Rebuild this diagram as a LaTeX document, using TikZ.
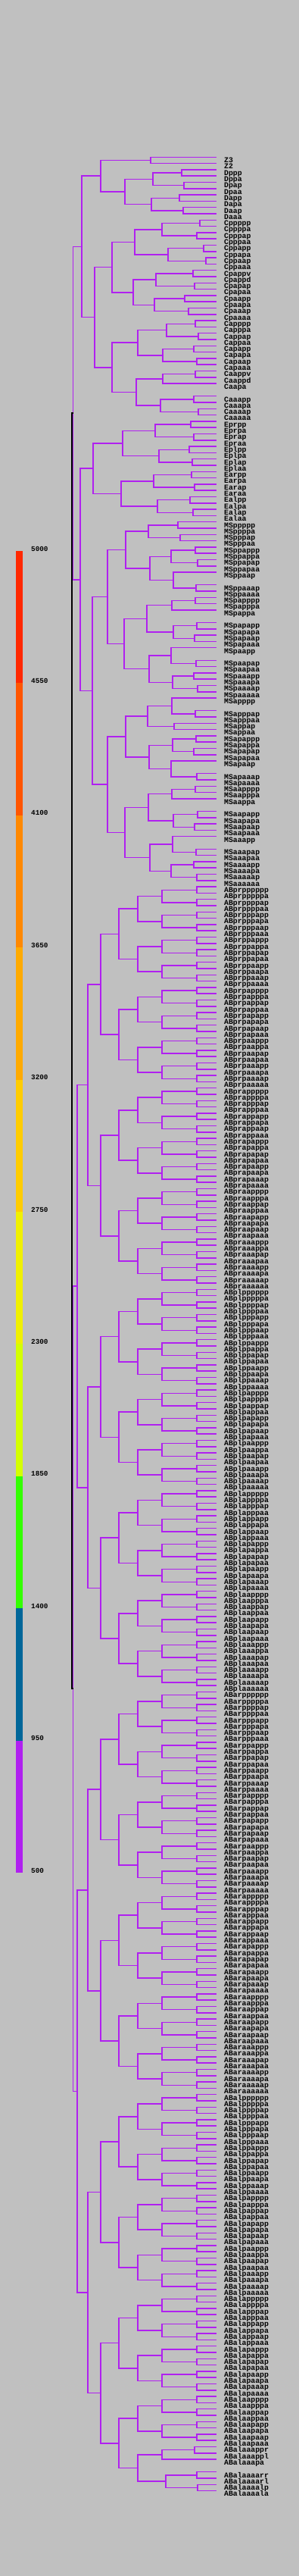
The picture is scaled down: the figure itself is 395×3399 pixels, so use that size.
\documentclass[tikz,border=0pt]{standalone}
\usepackage{fontspec}
\setmonofont{Liberation Mono}
\usetikzlibrary{calc}

\definecolor{bggrey}{RGB}{192,192,192}
\definecolor{cellline}{RGB}{176,32,240}
\definecolor{lev1}{RGB}{255,40,0}
\definecolor{lev2}{RGB}{255,85,0}
\definecolor{lev3}{RGB}{255,136,0}
\definecolor{lev4}{RGB}{255,170,0}
\definecolor{lev5}{RGB}{255,204,0}
\definecolor{lev6}{RGB}{240,240,0}
\definecolor{lev7}{RGB}{212,255,0}
\definecolor{lev8}{RGB}{51,255,0}
\definecolor{lev9}{RGB}{0,102,153}
\definecolor{lev10}{RGB}{176,32,240}

% one slot per terminal cell, top to bottom
\newcount\slotno
\newcommand\leaf[1]{%
  \pgfmathsetmacro\ly{-207.3-8.3*\the\slotno}%
  \coordinate (#1) at (286,\ly);
  \node[cellname] (n-#1) at (296,\ly-7.3) {#1};
  \global\advance\slotno by 1\relax}
\newcommand\blankslot{\global\advance\slotno by 1\relax}
\def\nocell{-}
\newcommand\leafrow[1]{\foreach \nm in {#1}{\ifx\nm\nocell\blankslot\else\leaf{\nm}\fi}}
% mother cell between two daughters, x = time of division
\newcommand\cell[5][branch]{%
  \path let \p1=(#4), \p2=(#5) in coordinate (#2) at (#3,{(\y1+\y2)/2});
  \draw[#1] (#4) -| (#2) |- (#5);}
\newcommand\pa[2]{\cell{#1}{#2}{#1p}{#1a}}

\begin{document}
\begin{tikzpicture}[x=1pt,y=1pt,
  branch/.style={draw=cellline,line width=1.5pt},
  rootline/.style={draw=black,line width=2pt},
  cellname/.style={anchor=base west,inner sep=0pt,font=\ttfamily\bfseries\fontsize{9.8}{10}\selectfont},
  scalelbl/.style={anchor=base west,inner sep=0pt,font=\ttfamily\bfseries\fontsize{9.3}{10}\selectfont}]

\fill[bggrey] (0,0) rectangle (395,-3399);

% colour scale
\foreach \k/\shade in {0/lev1,1/lev2,2/lev3,3/lev4,4/lev5,5/lev6,6/lev7,7/lev8,8/lev9,9/lev10}
  \fill[\shade] (21,{-727-174.4*\k}) rectangle (30,{-727-174.4*(\k+1)});
\foreach \k/\val in {0/5000,1/4550,2/4100,3/3650,4/3200,5/2750,6/2300,7/1850,8/1400,9/950,10/500}
  \node[scalelbl] (s\val) at (41,{-727-174.4*\k}) {\val};

% terminal cells
\leafrow{Z3,Z2,Dppp,Dppa,Dpap,Dpaa,Dapp,Dapa,Daap,Daaa,%
Cppppp,Cppppa,Cpppap,Cpppaa,Cppapp,Cppapa,Cppaap,Cppaaa,%
Cpappv,Cpappd,Cpapap,Cpapaa,Cpaapp,Cpaapa,Cpaaap,Cpaaaa,%
Capppp,Capppa,Cappap,Cappaa,Capapp,Capapa,Capaap,Capaaa,%
Caappv,Caappd,Caapa,-,Caaapp,Caaapa,Caaaap,Caaaaa,%
Eprpp,Eprpa,Eprap,Epraa,Eplpp,Eplpa,Eplap,Eplaa,%
Earpp,Earpa,Earap,Earaa,Ealpp,Ealpa,Ealap,Ealaa,%
MSppppp,MSppppa,MSpppap,MSpppaa,MSppappp,MSppappa,MSppapap,MSppapaa,%
MSppaap,-,MSppaaap,MSppaaaa,MSpapppp,MSpapppa,MSpappa,-,%
MSpapapp,MSpapapa,MSpapaap,MSpapaaa,MSpaapp,-,MSpaapap,MSpaapaa,%
MSpaaapp,MSpaaapa,MSpaaaap,MSpaaaaa,MSapppp,-,MSapppap,MSapppaa,%
MSappap,MSappaa,MSapappp,MSapappa,MSapapap,MSapapaa,MSapaap,-,%
MSapaaap,MSapaaaa,MSaapppp,MSaapppa,MSaappa,-,MSaapapp,MSaapapa,%
MSaapaap,MSaapaaa,MSaaapp,-,MSaaapap,MSaaapaa,MSaaaapp,MSaaaapa,%
MSaaaaap,MSaaaaaa}
\foreach \grp in {ABpr,ABpl,ABar}{%
  \foreach \tri in {ppp,ppa,pap,paa,app,apa,aap,aaa}{%
    \foreach \trb in {ppp,ppa,pap,paa,app,apa,aap,aaa}{\leaf{\grp\tri\trb}}}}
\foreach \tri in {ppp,ppa,pap,paa,app,apa,aap}{%
  \foreach \trb in {ppp,ppa,pap,paa,app,apa,aap,aaa}{\leaf{ABal\tri\trb}}}
\leafrow{ABalaaappr,ABalaaappl,ABalaaapa,-,ABalaaaarr,ABalaaaarl,ABalaaaalp,ABalaaaala}

% P1 lineage
\cell{P4}{199}{Z3}{Z2}
\pa{Dpp}{240}\pa{Dpa}{243}\pa{Dp}{202}\pa{Dap}{237}\pa{Daa}{242}\pa{Da}{200}\pa{D}{165}
\cell{P3}{133}{P4}{D}
\pa{Cpppp}{264}\pa{Cpppa}{260}\pa{Cppp}{214}
\pa{Cppap}{269}\pa{Cppaa}{272}\pa{Cppa}{222}\pa{Cpp}{178}
\cell{Cpapp}{255}{Cpappv}{Cpappd}\pa{Cpapa}{257}\pa{Cpap}{206}
\pa{Cpaap}{244}\pa{Cpaaa}{249}\pa{Cpaa}{204}\pa{Cpa}{176}\pa{Cp}{148}
\pa{Cappp}{258}\pa{Cappa}{262}\pa{Capp}{220}
\pa{Capap}{256}\pa{Capaa}{260}\pa{Capa}{215}\pa{Cap}{182}
\cell{Caapp}{258}{Caappv}{Caappd}\pa{Caap}{215}
\pa{Caaap}{256}\pa{Caaaa}{262}\pa{Caaa}{212}\pa{Caa}{180}\pa{Ca}{148}\pa{C}{125}
\cell{P2}{108}{P3}{C}
\pa{Eprp}{252}\pa{Epra}{256}\pa{Epr}{205}\pa{Eplp}{250}\pa{Epla}{254}\pa{Epl}{210}
\cell{Ep}{162}{Epr}{Epl}
\pa{Earp}{253}\pa{Eara}{257}\pa{Ear}{203}\pa{Ealp}{251}\pa{Eala}{255}\pa{Eal}{208}
\cell{Ea}{160}{Ear}{Eal}\pa{E}{123}
\pa{MSpppp}{235}\pa{MSpppa}{238}\pa{MSppp}{196}
\pa{MSppapp}{258}\pa{MSppapa}{261}\pa{MSppap}{226}
\pa{MSppaaa}{259}\pa{MSppaa}{229}\pa{MSppa}{198}\pa{MSpp}{166}
\pa{MSpappp}{258}\pa{MSpapp}{227}\pa{MSpapap}{260}\pa{MSpapaa}{257}\pa{MSpapa}{229}\pa{MSpap}{194}
\pa{MSpaapa}{259}\pa{MSpaap}{226}\pa{MSpaaap}{256}\pa{MSpaaaa}{261}\pa{MSpaaa}{228}\pa{MSpaa}{197}
\pa{MSpa}{164}\pa{MSp}{142}
\pa{MSapppa}{258}\pa{MSappp}{227}\pa{MSappa}{230}\pa{MSapp}{195}
\pa{MSapapp}{259}\pa{MSapapa}{256}\pa{MSapap}{228}\pa{MSapaaa}{260}\pa{MSapaa}{226}\pa{MSapa}{197}
\pa{MSap}{166}
\pa{MSaappp}{258}\pa{MSaapp}{227}\pa{MSaapap}{261}\pa{MSaapaa}{257}\pa{MSaapa}{229}\pa{MSaap}{196}
\pa{MSaaapa}{259}\pa{MSaaap}{228}\pa{MSaaaap}{256}\pa{MSaaaaa}{260}\pa{MSaaaa}{226}\pa{MSaaa}{198}
\pa{MSaa}{165}\pa{MSa}{142}\pa{MS}{122}
\cell{EMS}{106}{E}{MS}
\cell{P1}{96.5}{P2}{EMS}

% AB lineage
\cell{ABalaaapp}{257}{ABalaaappr}{ABalaaappl}
\cell{ABalaaap}{214}{ABalaaapp}{ABalaaapa}
\cell{ABalaaaar}{260}{ABalaaaarr}{ABalaaaarl}
\cell{ABalaaaal}{261}{ABalaaaalp}{ABalaaaala}
\cell{ABalaaaa}{219}{ABalaaaar}{ABalaaaal}
\def\lastbranch{ABalaaa}
\foreach \grp in {ABpr,ABpl,ABar,ABal}{%
  \foreach \tri in {ppp,ppa,pap,paa,app,apa,aap,aaa}{%
    \edef\here{\grp\tri}%
    \ifx\here\lastbranch\else
      \foreach \duo in {pp,pa,ap,aa}{\pa{\grp\tri\duo}{260}}%
      \pa{\grp\tri p}{214}\pa{\grp\tri a}{214}%
    \fi
    \pa{\grp\tri}{182}}%
  \foreach \duo in {pp,pa,ap,aa}{\pa{\grp\duo}{157}}%
  \pa{\grp p}{133}\pa{\grp a}{133}%
  \pa{\grp}{116}}
\cell{ABp}{102}{ABpr}{ABpl}
\cell{ABa}{102}{ABar}{ABal}
\pa{AB}{96.5}

\cell[rootline]{P0}{95}{P1}{AB}
\end{tikzpicture}
\end{document}
